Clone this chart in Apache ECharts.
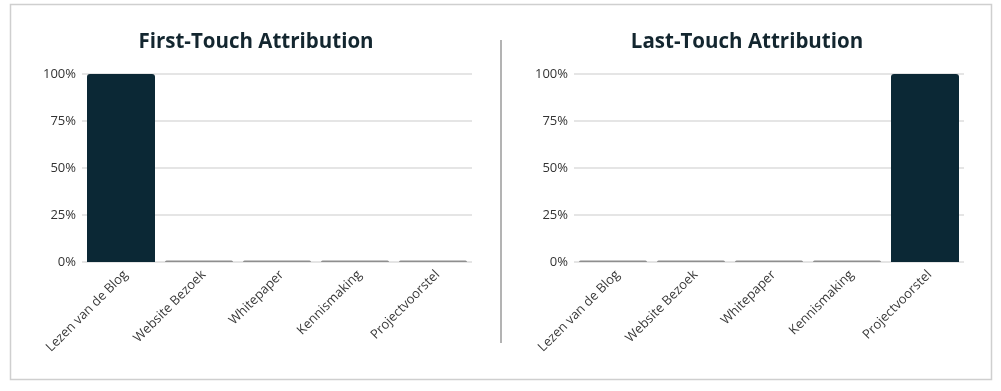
<!DOCTYPE html>
<html>
<head>
<meta charset="utf-8">
<script src="https://cdn.jsdelivr.net/npm/echarts@6/dist/echarts.min.js"></script>
<style>
html,body{margin:0;padding:0;background:#fff;}
#c{width:1001px;height:391px;}
</style>
</head>
<body>
<div id="c"></div>
<script>
const categories = ['Lezen van de Blog', 'Website Bezoek', 'Whitepaper', 'Kennismaking', 'Projectvoorstel'];
const firstTouch = [100, 0, 0, 0, 0];
const lastTouch = [0, 0, 0, 0, 100];
const titles = ['First-Touch Attribution', 'Last-Touch Attribution'];
const yTicks = [0, 25, 50, 75, 100];

const dark = '#0b2835';
const zeroGrey = '#8e8e8e';
const font = '"Open Sans", sans-serif';

const chart = echarts.init(document.getElementById('c'), null, {renderer: 'canvas'});

function xAxis(idx) {
  return {
    type: 'category', gridIndex: idx, data: categories,
    axisLine: {show: false}, axisTick: {show: false},
    axisLabel: {rotate: 45, margin: 6, fontSize: 13, color: '#3a3a3a', fontFamily: font,
                interval: 0, verticalAlign: 'top'}
  };
}
function yAxis(idx) {
  return {
    type: 'value', gridIndex: idx, min: yTicks[0], max: yTicks[yTicks.length - 1], interval: 25,
    axisLine: {show: false}, axisTick: {show: false},
    splitLine: {lineStyle: {color: '#dcdcdc', width: 1.5}},
    axisLabel: {formatter: '{value}%', margin: 6, fontSize: 13, color: '#333', fontFamily: font}
  };
}
function series(idx, data) {
  return {
    type: 'bar', xAxisIndex: idx, yAxisIndex: idx, data: data,
    barWidth: 68, barMinHeight: 1.5,
    itemStyle: {color: p => p.value > 0 ? dark : zeroGrey, borderRadius: [3, 3, 0, 0]},
    emphasis: {disabled: true}
  };
}

chart.setOption({
  animation: false,
  backgroundColor: '#fff',
  title: [
    {text: titles[0], left: 251, top: 27, textAlign: 'center',
     textStyle: {fontFamily: font, fontWeight: 'bold', fontSize: 20.5, color: '#13262f'}},
    {text: titles[1], left: 742, top: 27, textAlign: 'center',
     textStyle: {fontFamily: font, fontWeight: 'bold', fontSize: 20.5, color: '#13262f'}}
  ],
  grid: [
    {left: 82, width: 390, top: 74, height: 188},
    {left: 574, width: 390, top: 74, height: 188}
  ],
  xAxis: [xAxis(0), xAxis(1)],
  yAxis: [yAxis(0), yAxis(1)],
  series: [series(0, firstTouch), series(1, lastTouch)],
  graphic: [
    {type: 'rect', shape: {x: 10.5, y: 4.5, width: 981, height: 375},
     style: {fill: 'none', stroke: '#cfcfcf', lineWidth: 1.5}, z: -1},
    {type: 'line', shape: {x1: 501, y1: 40, x2: 501, y2: 343},
     style: {stroke: '#9a9a9a', lineWidth: 1.5}}
  ]
});
</script>
</body>
</html>
